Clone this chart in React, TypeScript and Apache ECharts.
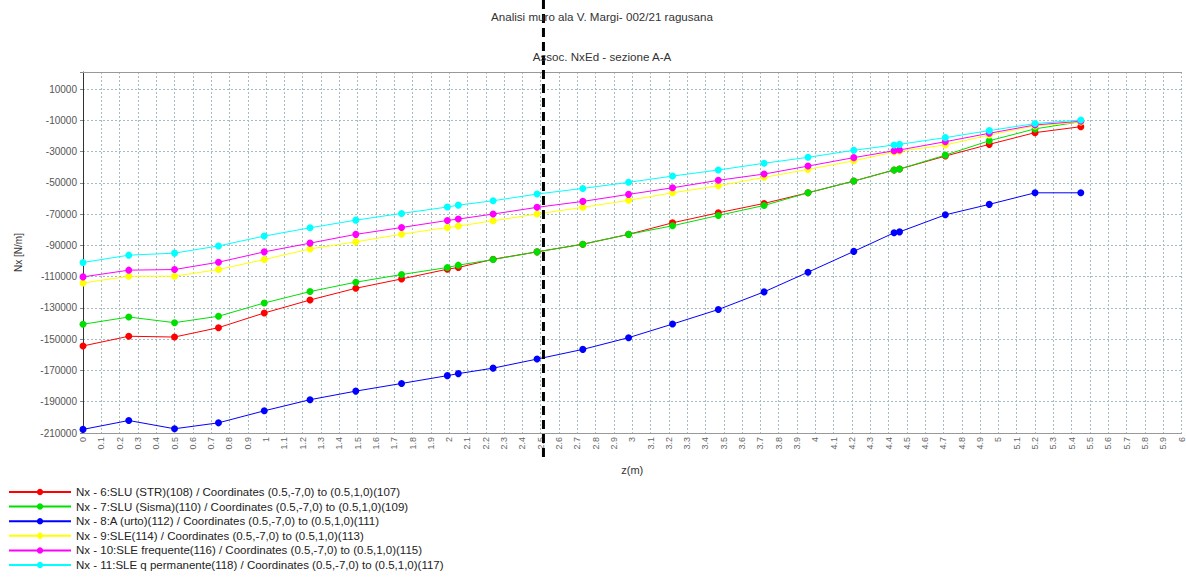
import React, { useEffect, useRef } from "react";
import * as echarts from "echarts";

const titleText = "Analisi muro ala V. Margi- 002/21 ragusana";
const subtitleText = "Assoc. NxEd - sezione A-A";
const xName = "z(m)";
const yName = "Nx [N/m]";
const sectionZ = 2.515;

const zValues = [0, 0.25, 0.5, 0.74, 0.99, 1.24, 1.49, 1.74, 1.99, 2.05, 2.24, 2.48, 2.73, 2.98, 3.22, 3.47, 3.72, 3.96, 4.21, 4.43, 4.46, 4.71, 4.95, 5.2, 5.45];

const seriesNames = [
  "Nx - 6:SLU (STR)(108) / Coordinates (0.5,-7,0) to (0.5,1,0)(107)",
  "Nx - 7:SLU (Sisma)(110) / Coordinates (0.5,-7,0) to (0.5,1,0)(109)",
  "Nx - 8:A (urto)(112) / Coordinates (0.5,-7,0) to (0.5,1,0)(111)",
  "Nx - 9:SLE(114) / Coordinates (0.5,-7,0) to (0.5,1,0)(113)",
  "Nx - 10:SLE frequente(116) / Coordinates (0.5,-7,0) to (0.5,1,0)(115)",
  "Nx - 11:SLE q permanente(118) / Coordinates (0.5,-7,0) to (0.5,1,0)(117)",
];

const sluStr = [-154300, -148100, -148600, -142600, -133200, -124900, -117400, -111400, -105200, -104100, -98800, -94100, -89200, -82900, -75500, -69100, -63100, -56300, -48800, -41700, -41100, -32800, -25300, -17800, -14000];
const sluSisma = [-140400, -135800, -139400, -135300, -126800, -119500, -113500, -108600, -104100, -102600, -99000, -94100, -89200, -82900, -77400, -70800, -64400, -56300, -48800, -41700, -41100, -32200, -23000, -15400, -10800];
const aUrto = [-207700, -202000, -207300, -203500, -195800, -188700, -183200, -178300, -173300, -172000, -168500, -162700, -156500, -149000, -140300, -131000, -119700, -107100, -93800, -81900, -81300, -70400, -63700, -56300, -56300];
const sle = [-114000, -109700, -109700, -105400, -99000, -92200, -87700, -82800, -78500, -77600, -74200, -69900, -65600, -61100, -56300, -51800, -46400, -41300, -35800, -30200, -29700, -25700, -19300, -13500, -11000];
const sleFreq = [-110100, -105800, -105400, -100700, -94100, -88500, -82900, -78500, -74000, -73100, -69900, -65600, -61800, -57300, -53100, -48300, -44300, -39200, -33800, -29400, -28900, -23600, -18200, -12900, -10500];
const sleQp = [-100900, -96200, -94900, -90300, -84000, -78700, -73800, -69500, -65400, -64200, -61400, -57100, -53500, -49600, -45600, -41700, -37400, -33600, -29100, -25700, -25300, -21000, -16500, -12000, -9700];

const seriesValues = [sluStr, sluSisma, aUrto, sle, sleFreq, sleQp];
const seriesColors = ["#ff0000", "#00e000", "#0000ff", "#ffff00", "#ff00ff", "#00ffff"];

const FONT = "'Liberation Sans', Arial, sans-serif";

export default function App() {
  const ref = useRef<HTMLDivElement>(null);
  useEffect(() => {
    if (!ref.current) return;
    const chart = echarts.init(ref.current, undefined, { renderer: "svg" });
    const gridStyle = { color: "#a3bcc2", type: [2, 2] as any, width: 1 };
    const titleGraphics = [
      {
        id: "t1",
        type: "text",
        x: 602,
        y: 16,
        z: 110,
        style: { text: titleText, fill: "#333", font: `11.6px ${FONT}`, textAlign: "center", textVerticalAlign: "middle" },
      },
      {
        id: "t2",
        type: "text",
        x: 602,
        y: 56,
        z: 110,
        style: { text: subtitleText, fill: "#333", font: `11.6px ${FONT}`, textAlign: "center", textVerticalAlign: "middle" },
      },
    ];
    chart.setOption({
      animation: false,
      backgroundColor: "#ffffff",
      textStyle: { fontFamily: FONT },
      grid: { left: 83, right: 1, top: 72, bottom: 144, containLabel: false },
      legend: {
        orient: "vertical",
        left: 8,
        top: 486,
        height: 91,
        padding: 0,
        itemWidth: 62,
        itemHeight: 8,
        itemGap: 2.6,
        data: seriesNames,
        textStyle: { fontSize: 11.5, color: "#222", fontFamily: FONT },
      },
      xAxis: [
        {
          type: "value",
          min: 0,
          max: 6,
          interval: 0.1,
          name: xName,
          nameLocation: "middle",
          nameGap: 31,
          nameTextStyle: { fontSize: 11, color: "#333", fontFamily: FONT },
          axisLine: { show: true, onZero: false, lineStyle: { color: "#999", width: 1 } },
          axisTick: { show: false },
          axisLabel: { rotate: 90, fontSize: 9, color: "#666", margin: 4, fontFamily: FONT, showMaxLabel: true, showMinLabel: true },
          splitLine: { show: true, lineStyle: gridStyle },
        },
        {
          type: "value",
          position: "top",
          min: 0,
          max: 6,
          interval: 0.1,
          axisLine: { show: true, onZero: false, lineStyle: { color: "#999", width: 1 } },
          axisTick: { show: false },
          axisLabel: { show: false },
          splitLine: { show: false },
        },
      ],
      yAxis: {
        type: "value",
        min: -210000,
        max: 21000,
        interval: 20000,
        name: yName,
        nameLocation: "middle",
        nameGap: 60,
        nameTextStyle: { fontSize: 10, color: "#333", fontFamily: FONT },
        axisLine: { show: true, onZero: false, lineStyle: { color: "#333", width: 1 } },
        axisTick: { show: true, length: 3, lineStyle: { color: "#888" } },
        axisLabel: {
          fontSize: 10,
          color: "#555",
          margin: 6,
          fontFamily: FONT,
          formatter: (v: number) => (v > 10000 ? "" : String(v)),
        },
        splitLine: { show: true, lineStyle: gridStyle },
      },
      series: seriesNames.map((name, si) => ({
        name,
        type: "line",
        xAxisIndex: 0,
        data: zValues.map((z, i) => [z, seriesValues[si][i]]),
        symbol: "circle",
        symbolSize: 7,
        color: seriesColors[si],
        lineStyle: { width: 1, color: seriesColors[si] },
        itemStyle: { color: seriesColors[si] },
      })),
      graphic: titleGraphics,
    });
    const px = chart.convertToPixel({ xAxisIndex: 0 }, sectionZ) as number;
    chart.setOption({
      graphic: [
        ...titleGraphics,
        {
          id: "section",
          type: "line",
          z: 100,
          shape: { x1: px, y1: 0, x2: px, y2: 462 },
          style: { stroke: "#000", lineWidth: 3, lineDash: [9, 5] },
        },
      ],
    });
    return () => chart.dispose();
  }, []);
  return <div ref={ref} style={{ position: "fixed", left: 0, top: 0, width: 1186, height: 577 }} />;
}
